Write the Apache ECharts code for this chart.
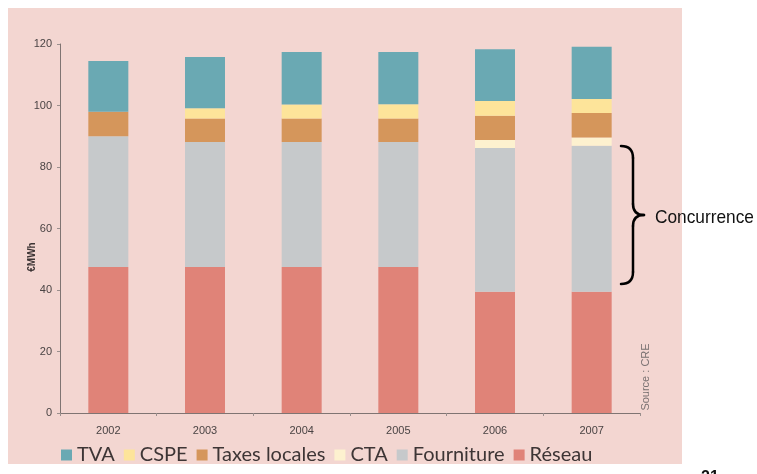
<!DOCTYPE html>
<html>
<head>
<meta charset="utf-8">
<script src="https://cdn.jsdelivr.net/npm/echarts@6/dist/echarts.min.js"></script>
<style>
  html, body { margin: 0; padding: 0; background: #ffffff; }
  #main { width: 757px; height: 474px; }
</style>
</head>
<body>
<div id="main"></div>
<script>
// données (€/MWh)
var annees = ['2002', '2003', '2004', '2005', '2006', '2007'];
var reseau = [47.5, 47.5, 47.5, 47.5, 39.4, 39.4];
var fourniture = [42.5, 40.6, 40.6, 40.6, 46.8, 47.5];
var cta = [0, 0, 0, 0, 2.6, 2.7];
var taxesLocales = [8, 7.7, 7.7, 7.7, 7.9, 8];
var cspe = [0, 3.3, 4.5, 4.6, 4.8, 4.5];
var tva = [16.5, 16.7, 17.1, 17.0, 16.8, 17.0];
var yTicks = [0, 20, 40, 60, 80, 100, 120];

var ordreLegende = ['TVA', 'CSPE', 'Taxes locales', 'CTA', 'Fourniture', 'Réseau'];

var myChart = echarts.init(document.getElementById('main'));

function serie(nom, data, couleur) {
    return {
        name: nom,
        type: 'bar',
        stack: 'total',
        barWidth: 40,
        data: data,
        itemStyle: { color: couleur },
        emphasis: { disabled: true }
    };
}

// accolade "Concurrence"
var traitAccolade = { fill: 'none', stroke: '#000000', lineWidth: 2.5, lineCap: 'round' };
function courbe(x1, y1, cx, cy, x2, y2) {
    return { type: 'bezierCurve', silent: true, shape: { x1: x1, y1: y1, cpx1: cx, cpy1: cy, x2: x2, y2: y2 }, style: traitAccolade };
}
function trait(x1, y1, x2, y2) {
    return { type: 'line', silent: true, shape: { x1: x1, y1: y1, x2: x2, y2: y2 }, style: traitAccolade };
}

var option = {
    backgroundColor: '#ffffff',
    animation: false,
    grid: { left: 60, right: 117, top: 44, bottom: 61 },
    legend: {
        data: ordreLegende,
        left: 56,
        top: 440,
        icon: 'rect',
        itemWidth: 11,
        itemHeight: 11,
        itemGap: 9,
        textStyle: { fontFamily: 'Lato', fontSize: 20, color: '#3d3535' }
    },
    xAxis: {
        type: 'category',
        data: annees,
        axisLine: { lineStyle: { color: '#7f7472', width: 1 } },
        axisTick: { show: true, length: 3, lineStyle: { color: '#9a8f8d' } },
        axisLabel: { color: '#4a4444', fontSize: 11, fontFamily: 'Arial', margin: 12 }
    },
    yAxis: {
        type: 'value',
        min: yTicks[0],
        max: yTicks[yTicks.length - 1],
        interval: 20,
        splitLine: { show: false },
        axisLine: { show: true, lineStyle: { color: '#7f7472', width: 1 } },
        axisTick: { show: true, length: 3, lineStyle: { color: '#9a8f8d' } },
        axisLabel: { color: '#4a4444', fontSize: 11, fontFamily: 'Arial', margin: 8 }
    },
    graphic: [
        {
            type: 'rect', z: -10, silent: true,
            shape: { x: 8, y: 8, width: 674, height: 456 },
            style: { fill: '#f3d6d1' }
        },
        {
            type: 'text', x: 32, y: 257, rotation: Math.PI / 2, silent: true,
            style: { text: '€MWh', fontSize: 10, fontWeight: 'bold', fontFamily: 'Arial', fill: '#3d3535', align: 'center', verticalAlign: 'middle' }
        },
        {
            type: 'text', x: 646, y: 377, rotation: Math.PI / 2, silent: true,
            style: { text: 'Source : CRE', fontSize: 11, fontFamily: 'Arial', fill: '#7a7272', align: 'center', verticalAlign: 'middle' }
        },
        courbe(621, 146, 633, 146, 633, 158),
        trait(633, 158, 633, 204),
        courbe(633, 204, 633, 215, 644, 215),
        courbe(644, 215, 633, 215, 633, 226),
        trait(633, 226, 633, 272),
        courbe(633, 272, 633, 284, 621, 284),
        {
            type: 'text', x: 655, y: 218, scaleX: 0.91, silent: true,
            style: { text: 'Concurrence', fontSize: 19, fontFamily: 'Liberation Sans', fill: '#111111', verticalAlign: 'middle' }
        },
        {
            type: 'text', x: 701, y: 470, silent: true,
            style: { text: '21', fontSize: 16, fontWeight: 'bold', fontFamily: 'Arial', fill: '#111111' }
        }
    ],
    series: [
        serie('Réseau', reseau, '#e08378'),
        serie('Fourniture', fourniture, '#c6c9cb'),
        serie('CTA', cta, '#fdf1cf'),
        serie('Taxes locales', taxesLocales, '#d5965b'),
        serie('CSPE', cspe, '#fde49a'),
        serie('TVA', tva, '#6aa9b3')
    ]
};

myChart.setOption(option);
</script>
</body>
</html>
